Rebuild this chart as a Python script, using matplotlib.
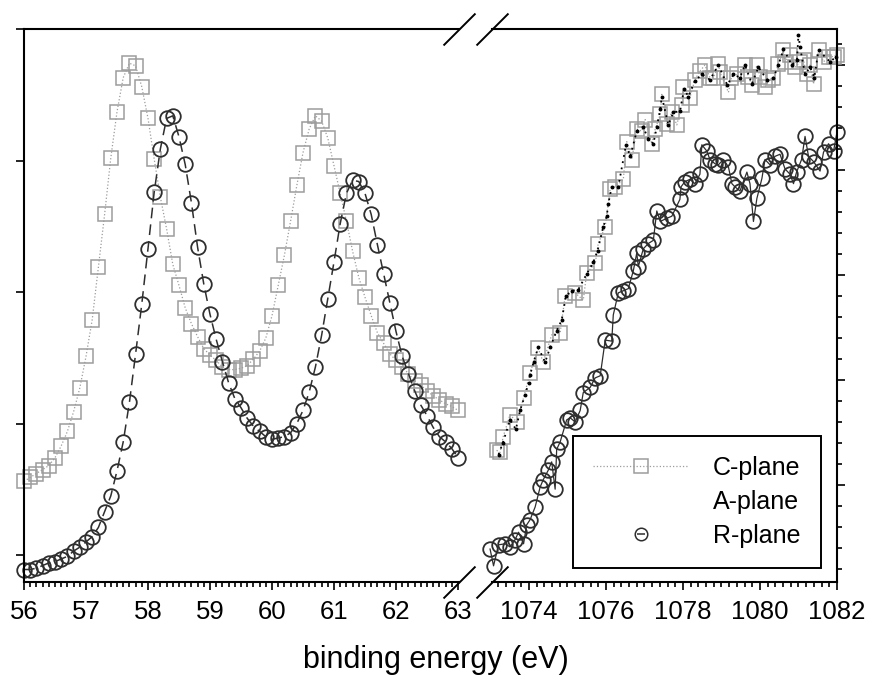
import matplotlib
matplotlib.use("Agg")
import matplotlib.pyplot as plt
from matplotlib import font_manager
from matplotlib.lines import Line2D
from matplotlib.ticker import MultipleLocator
import numpy as np

# the original labels look like a narrow Arial; use the narrow face if present
try:
    font_manager.findfont("Liberation Sans Narrow", fallback_to_default=False)
    TICK_FONT, TICK_SIZE = "Liberation Sans Narrow", 21
except ValueError:
    TICK_FONT, TICK_SIZE = "Liberation Sans", 18.5
plt.rcParams['font.family'] = ['Liberation Sans', 'DejaVu Sans']

# ---- data: low binding energy window (56-63 eV), 0.1 eV steps ----
be_low = np.round(56.0 + 0.1 * np.arange(71), 1)
c_low = [1.56, 1.59, 1.62, 1.65, 1.68, 1.74, 1.83, 1.94, 2.09, 2.27,
         2.51, 2.79, 3.19, 3.59, 4.02, 4.37, 4.63, 4.74, 4.72, 4.56,
         4.32, 4.01, 3.72, 3.48, 3.21, 3.05, 2.88, 2.76, 2.66, 2.57,
         2.52, 2.48, 2.43, 2.41, 2.41, 2.42, 2.44, 2.49, 2.55, 2.65,
         2.82, 3.05, 3.28, 3.54, 3.81, 4.06, 4.24, 4.34, 4.30, 4.17,
         3.96, 3.75, 3.54, 3.31, 3.11, 2.96, 2.82, 2.69, 2.61, 2.53,
         2.48, 2.43, 2.38, 2.32, 2.29, 2.25, 2.21, 2.18, 2.15, 2.13,
         2.10]
r_low = [0.89, 0.89, 0.90, 0.92, 0.94, 0.95, 0.97, 0.99, 1.03, 1.06,
         1.10, 1.14, 1.21, 1.33, 1.45, 1.64, 1.86, 2.16, 2.53, 2.91,
         3.33, 3.76, 4.09, 4.32, 4.34, 4.18, 3.97, 3.68, 3.34, 3.06,
         2.83, 2.64, 2.47, 2.31, 2.19, 2.12, 2.04, 1.98, 1.94, 1.90,
         1.88, 1.89, 1.90, 1.93, 2.00, 2.10, 2.24, 2.43, 2.67, 2.95,
         3.23, 3.52, 3.75, 3.85, 3.84, 3.75, 3.59, 3.36, 3.14, 2.92,
         2.70, 2.51, 2.38, 2.25, 2.14, 2.06, 1.97, 1.90, 1.86, 1.81,
         1.74]

# ---- data: high binding energy window (1073-1082 eV) ----
c_hi_x = [1073.16, 1073.25, 1073.33, 1073.51, 1073.68, 1073.86, 1074.03, 1074.24, 1074.37, 1074.59,
          1074.81, 1074.94, 1075.20, 1075.41, 1075.50, 1075.72, 1075.80, 1075.98, 1076.11, 1076.24,
          1076.45, 1076.54, 1076.67, 1076.80, 1076.93, 1077.02, 1077.19, 1077.28, 1077.41, 1077.45,
          1077.58, 1077.71, 1077.84, 1077.97, 1078.01, 1078.18, 1078.31, 1078.44, 1078.57, 1078.70,
          1078.79, 1078.92, 1078.96, 1079.18, 1079.26, 1079.40, 1079.61, 1079.70, 1079.79, 1079.92,
          1080.00, 1080.13, 1080.22, 1080.35, 1080.48, 1080.61, 1080.65, 1080.78, 1080.91, 1081.04,
          1081.13, 1081.21, 1081.30, 1081.39, 1081.52, 1081.65, 1081.78, 1081.91, 1082.00]
c_hi_y = [1.33, 1.31, 1.46, 1.67, 1.60, 1.83, 2.07, 2.30, 2.17, 2.43,
          2.45, 2.80, 2.83, 2.76, 3.02, 3.11, 3.30, 3.46, 3.82, 3.84,
          3.91, 4.27, 4.10, 4.39, 4.37, 4.48, 4.25, 4.39, 4.53, 4.72,
          4.44, 4.55, 4.43, 4.62, 4.79, 4.69, 4.86, 4.94, 5.00, 4.88,
          4.88, 5.01, 4.93, 4.74, 4.88, 4.91, 5.00, 4.89, 4.81, 5.00,
          4.89, 4.79, 4.86, 4.88, 5.01, 5.14, 5.03, 5.10, 4.98, 5.03,
          5.05, 4.91, 5.00, 4.82, 5.14, 5.03, 5.08, 5.08, 5.10]

a_hi_x = [1073.21, 1073.32, 1073.51, 1073.66, 1073.77, 1073.90, 1073.99, 1074.03, 1074.12, 1074.24,
          1074.42, 1074.55, 1074.72, 1074.85, 1074.96, 1075.11, 1075.28, 1075.50, 1075.67, 1075.78,
          1075.93, 1076.02, 1076.06, 1076.15, 1076.32, 1076.52, 1076.63, 1076.80, 1076.96, 1077.10,
          1077.23, 1077.32, 1077.41, 1077.45, 1077.62, 1077.75, 1077.92, 1078.03, 1078.14, 1078.31,
          1078.49, 1078.70, 1078.92, 1079.15, 1079.31, 1079.48, 1079.61, 1079.79, 1079.96, 1080.18,
          1080.35, 1080.48, 1080.61, 1080.83, 1080.96, 1081.00, 1081.04, 1081.17, 1081.30, 1081.41,
          1081.52, 1081.82, 1081.98]
a_hi_y = [1.29, 1.40, 1.62, 1.53, 1.71, 1.86, 1.97, 2.05, 2.17, 2.31,
          2.17, 2.31, 2.47, 2.57, 2.80, 2.85, 2.86, 3.01, 3.12, 3.23,
          3.46, 3.56, 3.68, 3.84, 3.84, 4.24, 4.13, 4.37, 4.41, 4.30,
          4.25, 4.41, 4.58, 4.70, 4.43, 4.55, 4.56, 4.77, 4.70, 4.85,
          4.91, 4.86, 5.00, 4.81, 4.91, 4.88, 5.00, 4.82, 4.98, 4.86,
          4.88, 5.00, 5.15, 5.00, 5.05, 5.29, 5.17, 4.91, 4.98, 4.88,
          5.14, 5.03, 5.08]

r_hi_x = [1072.99, 1073.08, 1073.21, 1073.38, 1073.51, 1073.64, 1073.73, 1073.86, 1073.94, 1074.03,
          1074.16, 1074.29, 1074.37, 1074.50, 1074.59, 1074.68, 1074.72, 1074.81, 1074.98, 1075.07,
          1075.20, 1075.33, 1075.41, 1075.59, 1075.72, 1075.85, 1075.98, 1076.15, 1076.19, 1076.32,
          1076.45, 1076.58, 1076.71, 1076.80, 1076.84, 1076.97, 1077.10, 1077.23, 1077.32, 1077.41,
          1077.58, 1077.71, 1077.92, 1077.95, 1078.05, 1078.18, 1078.31, 1078.44, 1078.49, 1078.62,
          1078.70, 1078.83, 1078.92, 1079.05, 1079.18, 1079.27, 1079.35, 1079.48, 1079.66, 1079.74,
          1079.83, 1079.92, 1080.05, 1080.13, 1080.26, 1080.39, 1080.52, 1080.65, 1080.78, 1080.87,
          1080.95, 1081.08, 1081.17, 1081.26, 1081.39, 1081.56, 1081.65, 1081.78, 1081.91, 1082.00]
r_hi_y = [0.39, 0.23, 0.43, 0.44, 0.41, 0.48, 0.55, 0.44, 0.62, 0.67,
          0.79, 0.98, 1.05, 1.14, 1.22, 0.96, 1.34, 1.41, 1.62, 1.64,
          1.60, 1.71, 1.88, 1.93, 2.02, 2.04, 2.38, 2.37, 2.62, 2.83,
          2.85, 2.87, 3.04, 3.21, 3.08, 3.25, 3.30, 3.33, 3.61, 3.51,
          3.54, 3.56, 3.72, 3.84, 3.89, 3.91, 3.87, 3.96, 4.24, 4.18,
          4.10, 4.06, 4.05, 4.10, 4.03, 3.87, 3.84, 3.80, 3.98, 3.87,
          3.51, 3.73, 3.92, 4.10, 4.05, 4.13, 4.15, 4.01, 3.96, 3.87,
          3.98, 4.10, 4.32, 4.13, 4.08, 3.99, 4.17, 4.25, 4.18, 4.36]

low_ticks = [56, 57, 58, 59, 60, 61, 62, 63]
high_ticks = [1074, 1076, 1078, 1080, 1082]

SQ_COL = "#9c9c9c"
CI_COL = "#2e2e2e"

fig = plt.figure(figsize=(8.72, 6.81), dpi=100)
fig.patch.set_facecolor("white")
ax1 = fig.add_axes([24 / 872, 99 / 681, 435 / 872, 553 / 681])
ax2 = fig.add_axes([492 / 872, 99 / 681, 345 / 872, 553 / 681])

sq_kw = dict(marker="s", ms=9.5, mfc="none", mec=SQ_COL, mew=1.1,
             color=SQ_COL, ls=":", lw=0.9)
ci_kw = dict(marker="o", ms=10.5, mfc="none", mec=CI_COL, mew=1.3,
             color=CI_COL, ls=(0, (7, 4)), lw=1.1)

# left window
ax1.plot(be_low, c_low, clip_on=False, **sq_kw)
ax1.plot(be_low, r_low, clip_on=False, **ci_kw)

# right window
ax2.plot(c_hi_x, c_hi_y, clip_on=False, **sq_kw)
ax2.plot(a_hi_x, a_hi_y, color="black", ls=(0, (1, 2.5)), lw=1.3,
         marker="o", ms=1.8, mfc="black", mec="black", clip_on=False)
ax2.plot(r_hi_x, r_hi_y, clip_on=False,
         **{**ci_kw, "ls": "-", "lw": 0.9})

ax1.set_xlim(56, 63.016)
ax1.set_ylim(0.795, 5.0)
ax2.set_xlim(1073.04, 1082.0)
ax2.set_ylim(0.076, 5.343)

for ax in (ax1, ax2):
    for s in ax.spines.values():
        s.set_linewidth(1.5)
    ax.tick_params(which="both", direction="out", width=1.2,
                   labelsize=TICK_SIZE, top=False, pad=7)
    ax.tick_params(which="major", length=6)
    ax.tick_params(which="minor", length=3.5)
    for lab in ax.get_xticklabels():
        lab.set_family(TICK_FONT)

ax1.spines["right"].set_visible(False)
ax2.spines["left"].set_visible(False)

ax1.set_xticks(low_ticks)
ax1.xaxis.set_minor_locator(MultipleLocator(0.1))
ax1.set_yticks([1, 2, 3, 4, 5])
ax1.tick_params(axis="y", left=True, right=False, labelleft=False)

ax2.set_xticks(high_ticks)
ax2.xaxis.set_minor_locator(MultipleLocator(0.2))
ax2.set_yticks([1, 2, 3, 4, 5])
ax2.yaxis.set_minor_locator(MultipleLocator(0.2))
ax2.tick_params(axis="y", which="both", left=False, right=True,
                labelleft=False, labelright=False)

for ax in (ax1, ax2):
    for lab in ax.get_xticklabels():
        lab.set_family(TICK_FONT)

# break marks
brk = dict(marker=[(-1, -1), (1, 1)], markersize=23, linestyle="none",
           color="k", mec="k", mew=1.4, clip_on=False, zorder=10)
ax1.plot([1, 1], [0, 1], transform=ax1.transAxes, **brk)
ax2.plot([0, 0], [0, 1], transform=ax2.transAxes, **brk)

# legend
h_c = Line2D([], [], **sq_kw)
h_a = Line2D([], [], ls="none", marker="None")
h_r = (Line2D([], [], marker="o", ms=9, mfc="none", mec=CI_COL, mew=1.1, ls="none"),
       Line2D([], [], marker="_", ms=6, mec=CI_COL, mew=1.1, ls="none"))
leg = fig.legend([h_c, h_a, h_r], ["C-plane", "A-plane", "R-plane"],
                 loc="lower left", bbox_to_anchor=(573 / 872, 1 - 568 / 681),
                 fontsize=18, numpoints=1, handlelength=3.8, handletextpad=1.0,
                 borderpad=0.8, labelspacing=0.41, fancybox=False,
                 framealpha=1, edgecolor="black", borderaxespad=0)
leg.get_frame().set_linewidth(1.4)
leg.set_zorder(20)

fig.text(0.5, 1 - 660 / 681, "binding energy (eV)", ha="center",
         va="center", fontsize=22, family=[TICK_FONT, "Liberation Sans"])

fig.savefig("out.png", dpi=100, facecolor="white")
